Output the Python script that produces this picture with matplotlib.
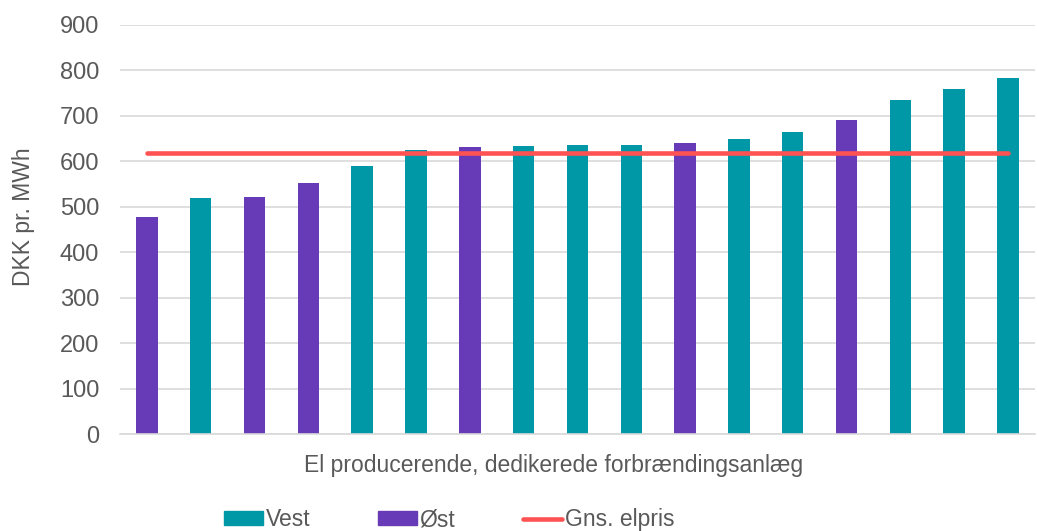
import matplotlib.pyplot as plt
from matplotlib.lines import Line2D
from matplotlib.patches import Patch

# Data
plants = list(range(1, 18))
values = [478, 520, 522, 553, 591, 626, 631, 633, 636, 636, 641, 649, 664, 690, 735, 759, 783]
region = ['Øst', 'Vest', 'Øst', 'Øst', 'Vest', 'Vest', 'Øst', 'Vest', 'Vest', 'Vest',
          'Øst', 'Vest', 'Vest', 'Øst', 'Vest', 'Vest', 'Vest']
avg_price = [619] * len(plants)
yticks = [0, 100, 200, 300, 400, 500, 600, 700, 800, 900]

colors = {'Vest': '#0097A7', 'Øst': '#673AB7'}
line_color = '#FF5252'
text_color = '#595959'


def plot_chart():
    plt.rcParams['font.family'] = ['Liberation Sans', 'DejaVu Sans']
    fig = plt.figure(figsize=(10.37, 5.31), dpi=100)
    ax = fig.add_axes([0.1157, 0.182, 0.8823, 0.771])

    x = list(range(len(plants)))
    ax.bar(x, values, width=0.4, color=[colors[r] for r in region], zorder=2)
    ax.plot(x, avg_price, color=line_color, linewidth=3.3, solid_capstyle='round', zorder=3)

    ax.set_xlim(-0.5, len(plants) - 0.5)
    ax.set_ylim(0, 900)
    ax.set_yticks(yticks)
    ax.set_xticks([])
    ax.grid(axis='y', color='#D9D9D9', linewidth=1.2, zorder=0)
    for s in ['top', 'right', 'left']:
        ax.spines[s].set_visible(False)
    ax.spines['bottom'].set_color('#D9D9D9')
    ax.spines['bottom'].set_linewidth(1.2)
    ax.tick_params(axis='y', length=0, labelsize=17, labelcolor=text_color, pad=15)

    ax.set_ylabel('DKK pr. MWh', fontsize=16.5, color=text_color, va='center')
    ax.yaxis.set_label_coords(-0.105, 0.531)
    ax.set_xlabel('El producerende, dedikerede forbrændingsanlæg', fontsize=16.5,
                  color=text_color, va='center')
    ax.xaxis.set_label_coords(0.474, -0.075)

    handles = [Patch(color=colors['Vest']), Patch(color=colors['Øst']),
               Line2D([0], [0], color=line_color, linewidth=3.3, solid_capstyle='round')]
    fig.legend(handles, ['Vest', 'Øst', 'Gns. elpris'], loc='center', ncol=3,
               bbox_to_anchor=(449 / 1037, 0.021), frameon=False, fontsize=16.5,
               labelcolor=text_color, handlelength=1.7, handleheight=0.55,
               handletextpad=0.13, columnspacing=2.95, borderpad=0)

    fig.savefig('out.png', dpi=100)


if __name__ == '__main__':
    plot_chart()
